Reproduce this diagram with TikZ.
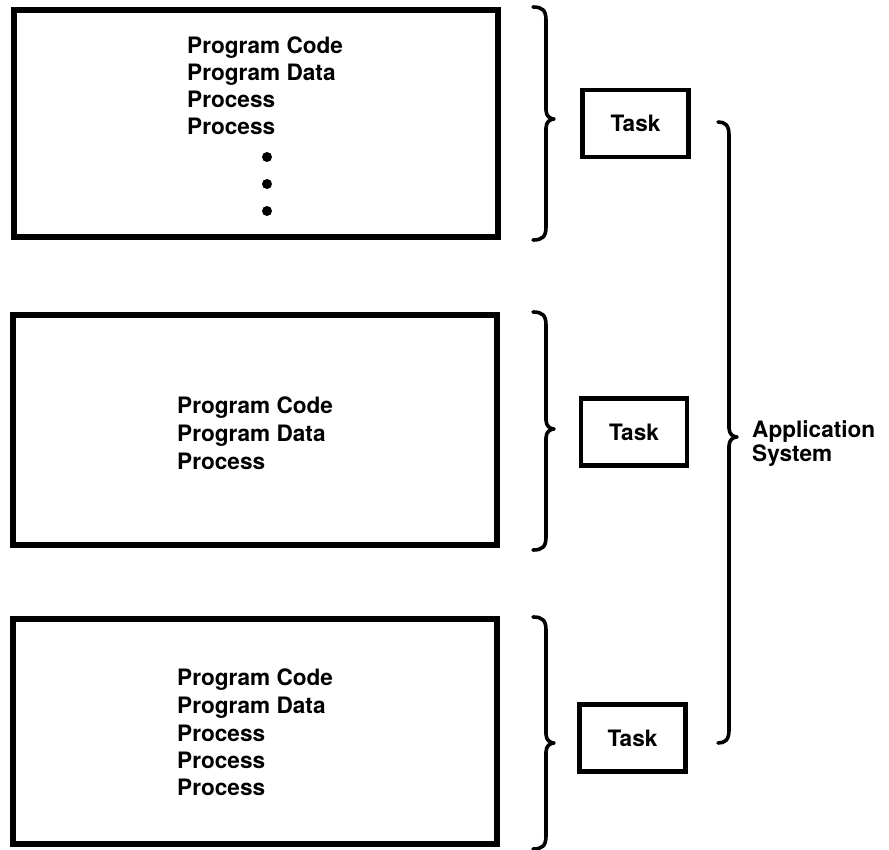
\documentclass[tikz,border=0pt]{standalone}
\usepackage{fontspec}
\setmainfont{TeX Gyre Heros}
\begin{document}
\begin{tikzpicture}[x=1pt,y=-1pt,
  bigbox/.style={draw=black, line width=6pt, minimum width=484pt, inner sep=0pt},
  taskbox/.style={draw=black, line width=4.5pt, minimum width=106pt, minimum height=67pt, inner sep=0pt,
                  font=\fontsize{22.6}{27}\selectfont\bfseries},
  label/.style={anchor=base west, inner sep=0pt, font=\fontsize{22.6}{27}\selectfont\bfseries},
  dotmark/.style={circle, fill=black, inner sep=0pt, minimum size=10pt},
  bracestyle/.style={draw=black, line width=3.6pt, line cap=round, line join=round}]

\useasboundingbox (0,0) rectangle (889,850);

% curly brace: end x, stem x, tip x, top y, tip y, bottom y
\newcommand{\curlybrace}[6]{%
  \draw[bracestyle] (#1,#4) .. controls (#2-4,#4) and (#2,#4+3) .. (#2,#4+13)
    -- (#2,#5-9) .. controls (#2,#5-3) and (#3-4,#5) .. (#3,#5)
    .. controls (#3-4,#5) and (#2,#5+3) .. (#2,#5+9)
    -- (#2,#6-13) .. controls (#2,#6-3) and (#2-4,#6) .. (#1,#6);}

% program boxes
\node[bigbox, minimum height=227pt] (prog1) at (255.5,123.5) {};
\node[bigbox, minimum height=230pt] (prog2) at (255,430) {};
\node[bigbox, minimum height=225pt] (prog3) at (254.5,731.5) {};

% contents of the first box
\node[label] (p1code) at (187,54)  {Program Code};
\node[label] (p1data) at (187,81)  {Program Data};
\node[label] (p1proc1) at (187,108) {Process};
\node[label] (p1proc2) at (187,135) {Process};
\node[dotmark] (dot1) at (267,157) {};
\node[dotmark] (dot2) at (267,184) {};
\node[dotmark] (dot3) at (267,211) {};

% contents of the second box
\node[label] (p2code) at (177,413) {Program Code};
\node[label] (p2data) at (177,441) {Program Data};
\node[label] (p2proc) at (177,469) {Process};

% contents of the third box
\node[label] (p3code) at (177,685) {Program Code};
\node[label] (p3data) at (177,713) {Program Data};
\node[label] (p3proc1) at (177,741) {Process};
\node[label] (p3proc2) at (177,768) {Process};
\node[label] (p3proc3) at (177,795) {Process};

% task boxes
\node[taskbox] (task1) at (635.5,123.5) {Task};
\node[taskbox] (task2) at (634,432) {Task};
\node[taskbox] (task3) at (632.5,738) {Task};

% braces grouping each program into a task
\curlybrace{533}{546}{554}{7}{119}{240}
\curlybrace{533}{546}{554}{312}{429}{550}
\curlybrace{533}{546}{554}{617}{743}{849}

% brace grouping the tasks into the application system
\curlybrace{718}{729}{737}{122}{437}{743}

\node[label] (app) at (752,437) {Application};
\node[label] (sys) at (752,461) {System};
\end{tikzpicture}
\end{document}
